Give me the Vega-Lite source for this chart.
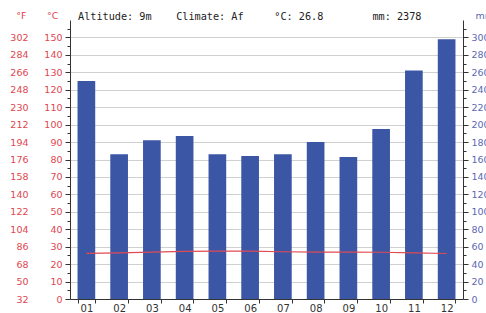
{
  "$schema": "https://vega.github.io/schema/vega-lite/v6.json",
  "width": 393,
  "height": 279,
  "autosize": {"type": "none"},
  "padding": {"left": 70, "top": 20, "right": 23, "bottom": 14},
  "background": "white",
  "title": {
    "text": "Altitude: 9m\u00a0\u00a0\u00a0\u00a0Climate: Af\u00a0\u00a0\u00a0\u00a0\u00a0°C: 26.8\u00a0\u00a0\u00a0\u00a0\u00a0\u00a0\u00a0\u00a0mm: 2378",
    "anchor": "start",
    "frame": "group",
    "font": "DejaVu Sans Mono",
    "fontSize": 10.2,
    "fontWeight": "normal",
    "color": "#222222",
    "dx": 8,
    "dy": 20,
    "offset": 0,
    "baseline": "alphabetic"
  },
  "config": {
    "view": {"stroke": null},
    "axis": {"labelFont": "DejaVu Sans", "labelFontSize": 9.5, "titleFont": "DejaVu Sans", "titleFontSize": 9.5, "titleFontWeight": "normal", "domainColor": "#333333", "tickColor": "#333333"}
  },
  "data": {
    "values": [
      {"month": "01", "mm": 250, "temp": 26.2},
      {"month": "02", "mm": 166, "temp": 26.5},
      {"month": "03", "mm": 182, "temp": 26.9},
      {"month": "04", "mm": 187, "temp": 27.3},
      {"month": "05", "mm": 166, "temp": 27.5},
      {"month": "06", "mm": 164, "temp": 27.4},
      {"month": "07", "mm": 166, "temp": 27.1},
      {"month": "08", "mm": 180, "temp": 26.9},
      {"month": "09", "mm": 163, "temp": 26.9},
      {"month": "10", "mm": 195, "temp": 26.8},
      {"month": "11", "mm": 262, "temp": 26.4},
      {"month": "12", "mm": 298, "temp": 26.1}
    ]
  },
  "layer": [
    {
      "mark": {"type": "bar", "color": "#3c56a6"},
      "encoding": {
        "x": {"field": "month", "type": "nominal", "sort": null,
          "scale": {"paddingInner": 0.46, "paddingOuter": 0.23},
          "axis": {"orient": "bottom", "title": null, "labelAngle": 0, "tickBand": "extent", "tickSize": 4, "labelColor": "#333333", "labelFontSize": 10, "labelPadding": 0, "labelBaseline": "top", "grid": false}},
        "y": {"field": "mm", "type": "quantitative",
          "scale": {"domain": [0, 320], "nice": false, "zero": true},
          "axis": {"orient": "right", "values": [0,20,40,60,80,100,120,140,160,180,200,220,240,260,280,300], "labelColor": "#5b68b5", "tickSize": 5, "labelPadding": 3, "grid": false,
            "title": "mm", "titleAngle": 0, "titleX": 12, "titleY": -2, "titleAlign": "left", "titleBaseline": "alphabetic", "titleColor": "#5b68b5"}}
      }
    },
    {
      "mark": {"type": "point", "opacity": 0},
      "encoding": {
        "y": {"field": "mm", "type": "quantitative",
          "scale": {"domain": [0, 320], "nice": false},
          "axis": {"orient": "right", "values": [10,30,50,70,90,110,130,150,170,190,210,230,250,270,290,310], "labels": false, "domain": false, "tickSize": 3, "grid": false, "title": null}}
      }
    },
    {
      "mark": {"type": "line", "color": "#e04a55", "strokeWidth": 1.2},
      "encoding": {
        "x": {"field": "month", "type": "nominal", "sort": null},
        "y": {"field": "temp", "type": "quantitative",
          "scale": {"domain": [0, 160], "nice": false},
          "axis": {"orient": "left", "values": [0,10,20,30,40,50,60,70,80,90,100,110,120,130,140,150], "labelColor": "#e0464f", "tickSize": 5, "labelPadding": 3, "grid": true, "gridColor": "#d0d0d0",
            "title": "°C", "titleAngle": 0, "titleX": -12, "titleY": -2, "titleAlign": "right", "titleBaseline": "alphabetic", "titleColor": "#e0464f"}}
      }
    },
    {
      "mark": {"type": "point", "opacity": 0},
      "encoding": {
        "y": {"field": "temp", "type": "quantitative",
          "scale": {"domain": [0, 160], "nice": false},
          "axis": {"orient": "left", "values": [5,15,25,35,45,55,65,75,85,95,105,115,125,135,145,155], "labels": false, "domain": false, "tickSize": 3, "grid": false, "title": null}}
      }
    },
    {
      "mark": {"type": "point", "opacity": 0},
      "encoding": {
        "y": {"field": "temp", "type": "quantitative",
          "scale": {"domain": [0, 160], "nice": false},
          "axis": {"orient": "left", "offset": 40, "values": [0,10,20,30,40,50,60,70,80,90,100,110,120,130,140,150], "labelExpr": "format(datum.value * 1.8 + 32, 'd')", "labelColor": "#e0464f", "ticks": false, "domain": false, "labelPadding": 2, "grid": false,
            "title": "°F", "titleAngle": 0, "titleX": -4, "titleY": -2, "titleAlign": "right", "titleBaseline": "alphabetic", "titleColor": "#e0464f"}}
      }
    }
  ],
  "resolve": {"scale": {"y": "independent"}}
}
